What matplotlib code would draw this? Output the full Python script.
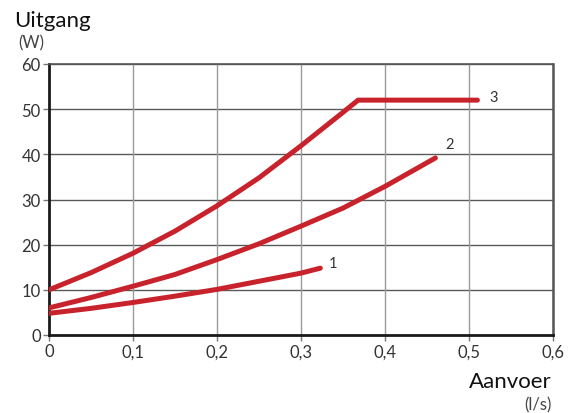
import matplotlib
matplotlib.use("Agg")
import matplotlib.pyplot as plt

plt.rcParams['font.family'] = ['Lato', 'DejaVu Sans']

# Data
x1 = [0.0, 0.05, 0.1, 0.15, 0.2, 0.25, 0.3, 0.323]
y1 = [4.8, 5.9, 7.2, 8.6, 10.1, 11.9, 13.7, 14.8]
x2 = [0.0, 0.05, 0.1, 0.15, 0.2, 0.25, 0.3, 0.35, 0.4, 0.46]
y2 = [6.0, 8.3, 10.8, 13.4, 16.7, 20.2, 24.1, 28.1, 32.9, 39.2]
x3 = [0.0, 0.05, 0.1, 0.15, 0.2, 0.25, 0.3, 0.35, 0.368, 0.51]
y3 = [10.0, 13.8, 18.1, 23.0, 28.6, 34.8, 41.9, 49.3, 52.0, 52.0]
series_names = ["1", "2", "3"]

xticks = [0, 0.1, 0.2, 0.3, 0.4, 0.5, 0.6]
xticklabels = ["0", "0,1", "0,2", "0,3", "0,4", "0,5", "0,6"]
yticks = [0, 10, 20, 30, 40, 50, 60]

# label offsets (points) for series names
label_offsets = [(6, 4), (7, 10), (9, 2)]

red = "#c8232c"
fig = plt.figure(figsize=(5.72, 4.14), dpi=100)
ax = fig.add_axes([49/572, 1-336/414, (553-49)/572, (336-65)/414])

for xs, ys, name, off in zip([x1, x2, x3], [y1, y2, y3], series_names, label_offsets):
    ax.plot(xs, ys, color=red, lw=3.6, solid_capstyle='round', solid_joinstyle='round', zorder=3)
    ax.annotate(name, (xs[-1], ys[-1]), xytext=off, textcoords='offset points',
                fontsize=10.5, color='#333333', va='center', ha='left')

ax.set_xlim(0, 0.6)
ax.set_ylim(0, 60)
ax.set_xticks(xticks)
ax.set_xticklabels(xticklabels)
ax.set_yticks(yticks)
for y in yticks[1:]:
    ax.axhline(y, color='#5a5a5a', lw=1.0, zorder=1)
for x in xticks[1:]:
    ax.axvline(x, color='#9a9a9a', lw=1.0, zorder=1)

ax.tick_params(axis='both', labelsize=12, colors='#333333', length=4, width=1, direction='out', pad=2)
ax.tick_params(axis='both', color='#777777')
for s in ['left', 'bottom']:
    ax.spines[s].set_color('#1a1a1a')
    ax.spines[s].set_linewidth(2.0)
ax.spines['top'].set_color('#555555')
ax.spines['top'].set_linewidth(1.2)
ax.spines['right'].set_color('#555555')
ax.spines['right'].set_linewidth(1.8)

fig.text(14/572, 1-27/414, "Uitgang", fontsize=16, color='#111111', ha='left', va='baseline')
fig.text(18/572, 1-43/414, "(W)", fontsize=12, color='#444444', ha='left', va='center')
fig.text(552/572, 1-382/414, "Aanvoer", fontsize=16, color='#111111', ha='right', va='center')
fig.text(552/572, 1-405/414, "(l/s)", fontsize=12, color='#444444', ha='right', va='center')

fig.savefig("out.png", dpi=100)
